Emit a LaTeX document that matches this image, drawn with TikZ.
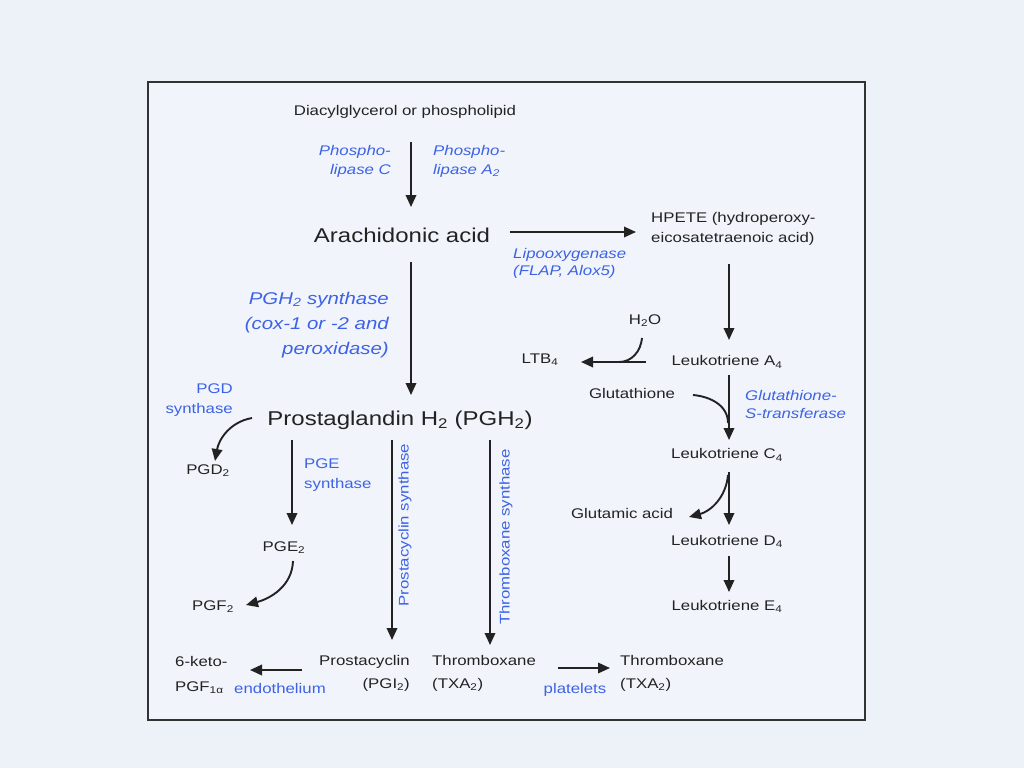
\documentclass[tikz,border=0pt]{standalone}
\usepackage{fontspec}
\setmainfont{Liberation Sans}[FakeStretch=1.2]
\usetikzlibrary{arrows.meta}
\definecolor{bgc}{HTML}{EDF1F8}
\definecolor{boxc}{HTML}{F1F5FB}
\definecolor{edge}{HTML}{333333}
\definecolor{ink}{HTML}{222222}
\definecolor{enz}{HTML}{3D62E6}
\begin{document}
\begin{tikzpicture}[x=1pt,y=-1pt,
  every node/.style={inner sep=0pt, text=ink},
  sm/.style={font=\fontsize{14}{17}\selectfont},
  big/.style={font=\fontsize{20}{24}\selectfont},
  enzi/.style={text=enz, font=\fontsize{14}{19}\selectfont\itshape},
  enzu/.style={text=enz, font=\fontsize{14}{20}\selectfont},
  arr/.style={draw=ink, line width=1.9pt, -{Triangle[length=12pt,width=10.5pt]}},
  ln/.style={draw=ink, line width=1.9pt}]
\useasboundingbox (0,0) rectangle (1024,768);
\fill[bgc] (0,0) rectangle (1024,768);
\draw[fill=boxc, draw=edge, line width=1.5pt] (148,82) rectangle (865,720);

% nodes
\node[sm] (diag) at (405,112) {Diacylglycerol or phospholipid};
\node[enzi, anchor=east, align=right] (phc) at (391,161) {Phospho-\\lipase C};
\node[enzi, anchor=west, align=left] (pha) at (433,161) {Phospho-\\lipase A\textsubscript{2}};
\node[big] (aa) at (402,235) {Arachidonic acid};
\node[sm, anchor=west, align=left, font=\fontsize{14}{20}\selectfont] (hpete) at (651,229) {HPETE (hydroperoxy-\\eicosatetraenoic acid)};
\node[enzi, anchor=west, align=left, font=\fontsize{14}{17}\selectfont\itshape] (lipo) at (513,263) {Lipooxygenase\\(FLAP, Alox5)};
\node[enzi, anchor=east, align=right, font=\fontsize{17}{25}\selectfont\itshape] (pghs) at (389,325) {PGH\textsubscript{2} synthase\\(cox-1 or -2 and\\peroxidase)};
\node[big] (pgh) at (400,420) {Prostaglandin H\textsubscript{2} (PGH\textsubscript{2})};
\node[enzu, anchor=east, align=right] (pgds) at (233,400) {PGD\\synthase};
\node[sm] (pgd2) at (208,471) {PGD\textsubscript{2}};
\node[enzu, anchor=west, align=left] (pges) at (304,475) {PGE\\synthase};
\node[sm] (pge2) at (284,548) {PGE\textsubscript{2}};
\node[sm] (pgf2) at (213,607) {PGF\textsubscript{2}};
\node[enzu, rotate=90] (pcs) at (405,525) {Prostacyclin synthase};
\node[enzu, rotate=90] (txs) at (506,537) {Thromboxane synthase};
\node[sm, anchor=east, align=right, font=\fontsize{14}{23}\selectfont] (pgi2) at (410,673) {Prostacyclin\\(PGI\textsubscript{2})};
\node[sm, anchor=west, align=left, font=\fontsize{14}{23}\selectfont] (txa) at (432,673) {Thromboxane\\(TXA\textsubscript{2})};
\node[sm, anchor=west, align=left, font=\fontsize{14}{25}\selectfont] (keto) at (175,675) {6-keto-\\PGF\textsubscript{1α}};
\node[enzu] (endo) at (280,688) {endothelium};
\node[enzu] (plat) at (575,690) {platelets};
\node[sm, anchor=west, align=left, font=\fontsize{14}{23}\selectfont] (txb) at (620,673) {Thromboxane\\(TXA\textsubscript{2})};
\node[sm] (h2o) at (645,321) {H\textsubscript{2}O};
\node[sm] (ltb4) at (540,360) {LTB\textsubscript{4}};
\node[sm] (lta) at (727,362) {Leukotriene A\textsubscript{4}};
\node[sm] (glut) at (632,393) {Glutathione};
\node[enzi, anchor=west, align=left, font=\fontsize{14}{18}\selectfont\itshape] (gst) at (745,404) {Glutathione-\\S-transferase};
\node[sm] (ltc) at (727,455) {Leukotriene C\textsubscript{4}};
\node[sm] (glua) at (622,513) {Glutamic acid};
\node[sm] (ltd) at (727,541) {Leukotriene D\textsubscript{4}};
\node[sm] (lte) at (727,606) {Leukotriene E\textsubscript{4}};

% connectors (curve angles are canvas angles: 90 = up)
\draw[arr] ([shift={(6,30)}]diag.center) -- ([shift={(9,-28)}]aa.center);
\draw[arr] ([shift={(108,-3)}]aa.center) -- ([shift={(-15,3)}]hpete.west);
\draw[arr] ([shift={(78,35)}]hpete.west) -- ([shift={(2,-22)}]lta.center);
\draw[arr] ([shift={(9,27)}]aa.center) -- ([shift={(11,-25)}]pgh.center);
\draw[arr] ([shift={(-148,-2)}]pgh.center) to[out=190,in=80] ([shift={(7,-10)}]pgd2.center);
\draw[arr] ([shift={(-108,20)}]pgh.center) -- ([shift={(8,-23)}]pge2.center);
\draw[arr] ([shift={(9,13)}]pge2.center) to[out=268,in=15] ([shift={(33,-2)}]pgf2.center);
\draw[arr] ([shift={(-8,20)}]pgh.center) -- ([shift={(-18,-33)}]pgi2.east);
\draw[arr] ([shift={(90,20)}]pgh.center) -- ([shift={(58,-28)}]txa.west);
\draw[arr] ([shift={(-108,-3)}]pgi2.east) -- ([shift={(75,-5)}]keto.west);
\draw[arr] ([shift={(126,-5)}]txa.west) -- ([shift={(-10,-5)}]txb.west);
% leukotriene branch
\draw[arr] ([shift={(-81,0)}]lta.center) -- ([shift={(41,2)}]ltb4.center);
\draw[ln] ([shift={(-3,17)}]h2o.center) to[out=265,in=0] ([shift={(-108,0)}]lta.center);
\draw[arr] ([shift={(2,13)}]lta.center) -- ([shift={(2,-15)}]ltc.center);
\draw[ln] ([shift={(61,2)}]glut.center) to[out=-5,in=90] ([shift={(1,-32)}]ltc.center);
\draw[arr] ([shift={(2,17)}]ltc.center) -- ([shift={(2,-16)}]ltd.center);
\draw[arr] ([shift={(1,20)}]ltc.center) to[out=265,in=15] ([shift={(67,4)}]glua.center);
\draw[arr] ([shift={(2,15)}]ltd.center) -- ([shift={(2,-14)}]lte.center);
\end{tikzpicture}
\end{document}
